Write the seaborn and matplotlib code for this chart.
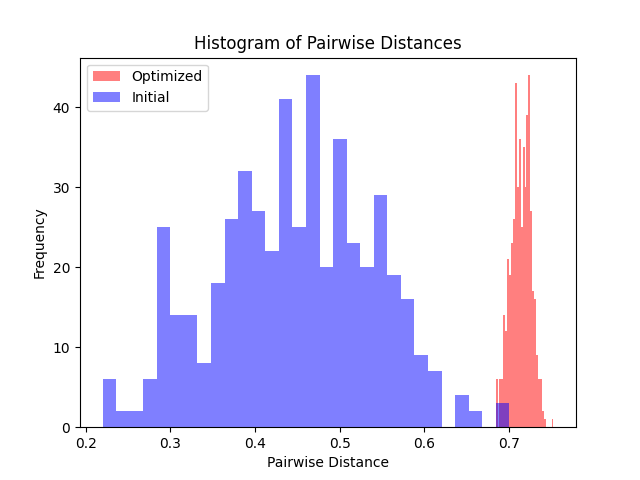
import numpy as np
import pandas as pd
import matplotlib
matplotlib.use("Agg")
import matplotlib.pyplot as plt
import seaborn as sns

# Initial distances histogram (30 bins)
initial_range = (0.2198, 0.7005)
initial_counts = [6, 2, 2, 6, 25, 14, 14, 8, 18, 26,
                  32, 27, 22, 41, 25, 44, 20, 36, 23, 20,
                  29, 19, 16, 9, 7, 0, 4, 2, 0, 3]

# Optimized distances histogram (30 bins)
optimized_range = (0.6842, 0.7525)
optimized_counts = [6, 0, 6, 6, 14, 12, 21, 19, 23, 26,
                    43, 30, 36, 25, 35, 30, 39, 44, 27, 17,
                    16, 9, 6, 6, 2, 1, 0, 0, 0, 1]

labels = ["Optimized", "Initial"]
colors = ["red", "blue"]


def hist_frame(rng, counts):
    edges = np.linspace(rng[0], rng[1], len(counts) + 1)
    centers = (edges[:-1] + edges[1:]) / 2
    return pd.DataFrame({"x": centers, "w": counts})


fig, ax = plt.subplots(figsize=(6.4, 4.8), dpi=100)

for rng, counts, lab, col in [(optimized_range, optimized_counts, labels[0], colors[0]),
                              (initial_range, initial_counts, labels[1], colors[1])]:
    df = hist_frame(rng, counts)
    sns.histplot(data=df, x="x", weights="w", bins=len(counts), binrange=rng,
                 ax=ax, color=col, alpha=0.5, linewidth=0, edgecolor="none",
                 label=lab)

ax.set_title("Histogram of Pairwise Distances")
ax.set_xlabel("Pairwise Distance")
ax.set_ylabel("Frequency")
ax.legend(loc="upper left")

fig.savefig("out.png", dpi=100)
